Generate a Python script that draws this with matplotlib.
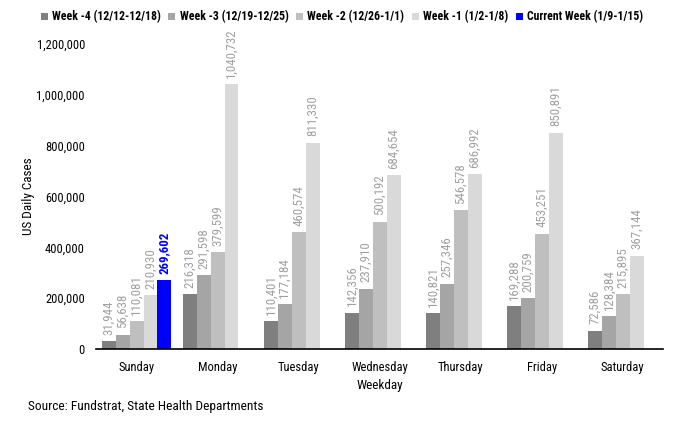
import matplotlib
matplotlib.use("Agg")
import matplotlib.pyplot as plt
import numpy as np

plt.rcParams['font.family'] = ['Roboto Condensed', 'DejaVu Sans']

days = ['Sunday', 'Monday', 'Tuesday', 'Wednesday', 'Thursday', 'Friday', 'Saturday']
week_labels = ['Week -4 (12/12-12/18)', 'Week -3 (12/19-12/25)', 'Week -2 (12/26-1/1)',
               'Week -1 (1/2-1/8)', 'Current Week (1/9-1/15)']
week_m4 = [31944, 216318, 110401, 142356, 140821, 169288, 72586]
week_m3 = [56638, 291598, 177184, 237910, 257346, 200759, 128384]
week_m2 = [110081, 379599, 460574, 500192, 546578, 453251, 215895]
week_m1 = [210930, 1040732, 811330, 684654, 686992, 850891, 367144]
current = [269602, None, None, None, None, None, None]

series = [week_m4, week_m3, week_m2, week_m1, current]
colors = ['#7f7f7f', '#a5a5a5', '#bfbfbf', '#d9d9d9', '#0000ff']
label_colors = ['#a0a0a0', '#a0a0a0', '#a0a0a0', '#a0a0a0', '#0000ff']

fig = plt.figure(figsize=(6.81, 4.23), dpi=100)
ax = fig.add_axes([0.141, 0.175, 0.833, 0.721])

x = np.arange(len(days))
w = 0.172
for i, vals in enumerate(series):
    xs = x + (i - 2) * w
    for xi, v in zip(xs, vals):
        if v is None:
            continue
        ax.bar(xi, v, width=w, color=colors[i], label=week_labels[i] if xi == xs[0] else None)
        ax.text(xi, v + 25000, f'{v:,}', rotation=90, ha='center', va='bottom',
                fontsize=9.3, color=label_colors[i],
                fontweight='bold' if i == 4 else 'normal')

ax.set_xlim(-0.5, 6.5)
ax.set_ylim(0, 1200000)
ax.set_yticks(np.arange(0, 1200001, 200000))
ax.yaxis.set_major_formatter(matplotlib.ticker.FuncFormatter(lambda v, p: f'{int(v):,}'))
ax.set_xticks(x)
ax.set_xticklabels(days)
ax.tick_params(axis='both', length=0, labelsize=9)
ax.tick_params(axis='x', pad=9)
ax.tick_params(axis='y', pad=8)
for s in ['top', 'right', 'left']:
    ax.spines[s].set_visible(False)
ax.spines['bottom'].set_linewidth(1.2)
ax.set_xlabel('Weekday', fontsize=9.5, labelpad=3)
ax.set_ylabel('US Daily Cases', fontsize=9.5, labelpad=1)

ax.legend(loc='center', bbox_to_anchor=(342 / 681, 0.96), bbox_transform=fig.transFigure,
          ncol=5, frameon=False, handlelength=0.6, handleheight=0.6, handletextpad=0.35,
          columnspacing=0.65, borderpad=0, prop={'weight': 'bold', 'size': 8.5})

fig.text(0.041, 0.038, 'Source: Fundstrat, State Health Departments', fontsize=9.6, va='center')

plt.savefig('out.png', dpi=100)
